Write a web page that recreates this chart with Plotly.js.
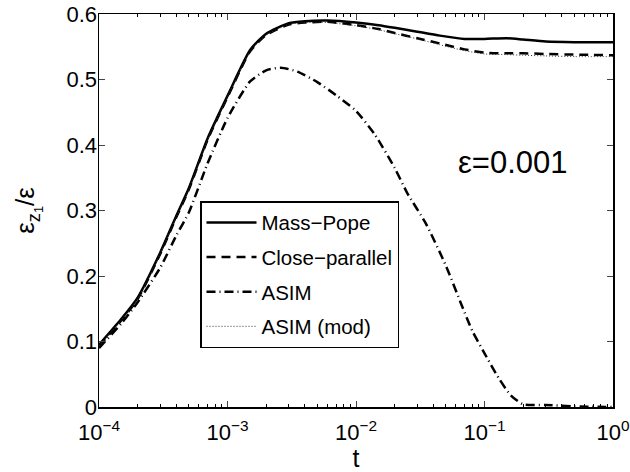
<!DOCTYPE html>
<html>
<head>
<meta charset="utf-8">
<script src="https://cdn.plot.ly/plotly-3.0.1.min.js"></script>
<style>html,body{margin:0;padding:0;background:#fff}#chart{width:630px;height:472px}</style>
</head>
<body>
<div id="chart"></div>
<script>
// time values
const tMP = [1e-4,1.5e-4,2e-4,3e-4,4e-4,5e-4,7e-4,1e-3,1.5e-3,2e-3,3e-3,4e-3,6e-3,1e-2,1.5e-2,2e-2,3e-2,4.5e-2,7e-2,0.1,0.15,0.2,0.3,0.5,1];
const massPope = [0.095,0.135,0.167,0.236,0.292,0.334,0.410,0.475,0.545,0.570,0.586,0.589,0.590,0.587,0.583,0.579,0.573,0.567,0.562,0.562,0.563,0.561,0.558,0.557,0.557];
const closeParallel = [0.093,0.133,0.165,0.234,0.290,0.332,0.408,0.473,0.543,0.568,0.584,0.587,0.588,0.583,0.577,0.571,0.563,0.555,0.546,0.541,0.540,0.540,0.539,0.538,0.537];
const asimMod = [0.093,0.133,0.165,0.234,0.290,0.332,0.408,0.473,0.543,0.568,0.584,0.587,0.587,0.582,0.576,0.570,0.562,0.553,0.544,0.539,0.538,0.537,0.536,0.535,0.535];
const tASIM = [1e-4,1.5e-4,2e-4,3e-4,4e-4,5e-4,7e-4,1e-3,1.5e-3,2e-3,2.6e-3,3.5e-3,5e-3,7e-3,1e-2,1.4e-2,2e-2,2.5e-2,3.5e-2,5e-2,6.5e-2,8e-2,0.1,0.13,0.16,0.2,0.3,0.5,1];
const asim = [0.090,0.128,0.160,0.213,0.262,0.297,0.372,0.441,0.497,0.514,0.518,0.512,0.496,0.476,0.452,0.416,0.365,0.327,0.280,0.216,0.160,0.117,0.082,0.043,0.018,0.004,0.003,0.001,0.0];
const xTickVals = [1e-4,1e-3,1e-2,1e-1,1];
const xTickText = ['10<sup>−4</sup>','10<sup>−3</sup>','10<sup>−2</sup>','10<sup>−1</sup>','10<sup>0</sup>'];
const yTickVals = [0,0.1,0.2,0.3,0.4,0.5,0.6];
const yTickText = ['0','0.1','0.2','0.3','0.4','0.5','0.6'];
const minorMantissas = [2,3,4,5,6,7,8,9];
const minorDecades = [1e-4,1e-3,1e-2,1e-1];
const xMinorVals = [];
minorDecades.forEach(d => minorMantissas.forEach(m => xMinorVals.push(m*d)));

const font = 'Liberation Sans, Arial, Helvetica, sans-serif';
const traces = [
  {x:tMP, y:massPope, name:'Mass−Pope', mode:'lines', line:{color:'#000', width:2.5, shape:'spline', smoothing:0.6}, legendgroup:'a'},
  {x:tMP, y:closeParallel, name:'Close−parallel', mode:'lines', line:{color:'#000', width:2.5, dash:'9px,6px', shape:'spline', smoothing:0.6}, legendgroup:'b'},
  {x:tASIM, y:asim, name:'ASIM', mode:'lines', line:{color:'#000', width:2.5, dash:'9px,4px,1px,4px', shape:'spline', smoothing:0.6}, legendgroup:'c'},
  {x:tMP, y:asimMod, name:'ASIM (mod)', mode:'lines', line:{color:'#333', width:1, dash:'1px,2px', shape:'spline', smoothing:0.6}, legendgroup:'d'}
];
const layout = {
  width:630, height:472,
  margin:{l:99, r:17, t:14, b:65},
  paper_bgcolor:'#fff', plot_bgcolor:'#fff',
  font:{family:font, size:22, color:'#000'},
  showlegend:true,
  legend:{x:0.1965, y:0.524, xanchor:'left', yanchor:'top', bordercolor:'#000', borderwidth:1.5, bgcolor:'#fff',
          font:{family:font, size:20.5, color:'#000'}, tracegroupgap:5, itemwidth:50, traceorder:'grouped'},
  xaxis:{type:'log', range:[-4,0], tickvals:xTickVals, ticktext:xTickText, ticks:'inside', ticklen:6, tickwidth:1,
         showline:true, linewidth:1.5, linecolor:'#000', mirror:'ticks', showgrid:false, zeroline:false,
         minor:{tickmode:'array', tickvals:xMinorVals, ticks:'inside', ticklen:3, tickwidth:1, tickcolor:'#000', showgrid:false},
         ticklabelstandoff:5,
         tickfont:{family:font, size:22}, title:{text:'t', font:{family:font, size:25}, standoff:0}},
  yaxis:{range:[0,0.6], tickvals:yTickVals, ticktext:yTickText, ticks:'inside', ticklen:6, tickwidth:1,
         showline:true, linewidth:1.5, linecolor:'#000', mirror:'ticks', showgrid:false, zeroline:false,
         ticklabelstandoff:-4,
         tickfont:{family:font, size:22}, title:{text:'ε<sub>z<sub>1</sub></sub>/ε', font:{family:font, size:26}, standoff:24}},
  annotations:[{x:0.805, y:0.621, xref:'paper', yref:'paper', xanchor:'center', yanchor:'middle', text:'ε=0.001', showarrow:false, font:{family:font, size:31, color:'#000'}}]
};
Plotly.newPlot('chart', traces, layout, {staticPlot:true});
</script>
</body>
</html>
